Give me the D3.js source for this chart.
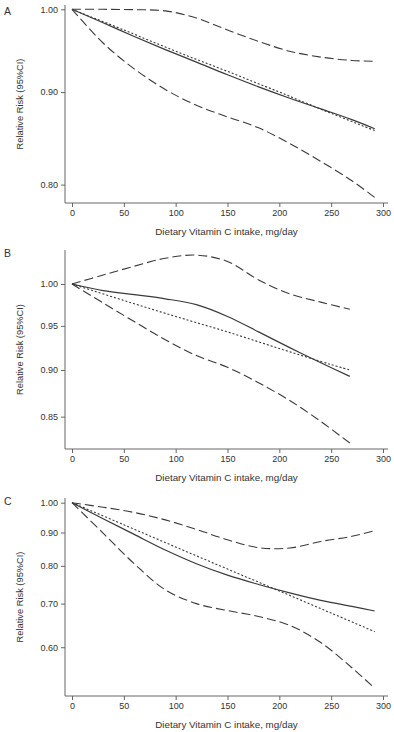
<!DOCTYPE html>
<html lang="en">
<head>
  <meta charset="utf-8">
  <title>Dietary Vitamin C intake and Relative Risk</title>
  <style>
    body { margin: 0; background: #fff; }
    text { font-family: "Liberation Sans", Arial, sans-serif; fill: #333; }
    .axis path, .axis line { stroke: #666; }
  </style>
  <script src="https://cdnjs.cloudflare.com/ajax/libs/d3/7.8.5/d3.min.js"></script>
</head>
<body>
<svg width="394" height="732"></svg>
<script>
    // data
    var xTicks = [0, 50, 100, 150, 200, 250, 300];

    // panel A
    var xA = [0, 30, 60, 90, 120, 150, 180, 210, 240, 270, 292];
    var upperA = [1.000, 1.000, 0.9995, 0.998, 0.989, 0.974, 0.960, 0.948, 0.941, 0.937, 0.936];
    var solidA = [1.000, 0.983, 0.966, 0.950, 0.935, 0.920, 0.906, 0.893, 0.881, 0.869, 0.859];
    var lowerA = [1.000, 0.958, 0.927, 0.903, 0.885, 0.872, 0.860, 0.843, 0.824, 0.804, 0.787];
    var xLinA = [0, 50, 100, 150, 200, 250, 292];
    var linA = [1.000, 0.974, 0.948, 0.924, 0.900, 0.876, 0.857];
    var yTicksA = [0.80, 0.90, 1.00];

    // panel B
    var xB = [0, 30, 60, 90, 120, 150, 180, 210, 240, 268];
    var upperB = [1.000, 1.011, 1.022, 1.032, 1.036, 1.028, 1.005, 0.988, 0.978, 0.9695];
    var solidB = [1.000, 0.992, 0.987, 0.982, 0.975, 0.961, 0.943, 0.925, 0.908, 0.893];
    var lowerB = [1.000, 0.977, 0.955, 0.934, 0.916, 0.903, 0.886, 0.867, 0.845, 0.823];
    var xLinB = [0, 50, 100, 150, 200, 250, 268];
    var linB = [1.000, 0.980, 0.961, 0.943, 0.924, 0.906, 0.900];
    var yTicksB = [0.85, 0.90, 0.95, 1.00];

    // panel C
    var xC = [0, 30, 60, 90, 120, 150, 180, 210, 240, 270, 292];
    var upperC = [1.000, 0.984, 0.966, 0.941, 0.910, 0.877, 0.853, 0.852, 0.872, 0.888, 0.906];
    var solidC = [1.000, 0.945, 0.894, 0.846, 0.806, 0.774, 0.749, 0.727, 0.708, 0.693, 0.682];
    var lowerC = [1.000, 0.898, 0.806, 0.735, 0.700, 0.683, 0.669, 0.648, 0.610, 0.558, 0.519];
    var xLinC = [0, 50, 100, 150, 200, 250, 292];
    var linC = [1.000, 0.925, 0.855, 0.791, 0.732, 0.677, 0.634];
    var yTicksC = [0.60, 0.70, 0.80, 0.90, 1.00];

    var svg = d3.select("svg"),
        axisLeftX = 65,
        axisRightX = 388,
        xScale = d3.scaleLinear().domain([0, 300]).range([72, 383]),
        Xlabel = "Dietary Vitamin C intake, mg/day",
        Ylabel = "Relative Risk (95%CI)";

    var panels = [
      { name: "A", top: 5, bottom: 203, letterY: 15, ymin: 0.7815, ymax: 1.0055, yTicks: yTicksA,
        x: xA, upper: upperA, solid: solidA, lower: lowerA, xLin: xLinA, lin: linA },
      { name: "B", top: 250, bottom: 449, letterY: 257, ymin: 0.817, ymax: 1.0425, yTicks: yTicksB,
        x: xB, upper: upperB, solid: solidB, lower: lowerB, xLin: xLinB, lin: linB },
      { name: "C", top: 498, bottom: 696, letterY: 505, ymin: 0.505, ymax: 1.0167, yTicks: yTicksC,
        x: xC, upper: upperC, solid: solidC, lower: lowerC, xLin: xLinC, lin: linC }
    ];

    panels.forEach(function(p) {
        var yScale = d3.scaleLog().domain([p.ymin, p.ymax]).range([p.bottom, p.top]);
        var g = svg.append("g");

        // panel letter
        g.append("text")
         .attr("x", 4)
         .attr("y", p.letterY)
         .attr("font-size", "10.5px")
         .text(p.name);

        // X axis
        var xg = g.append("g")
         .attr("class", "axis")
         .attr("transform", "translate(0," + p.bottom + ")")
         .call(d3.axisBottom(xScale).tickValues(xTicks).tickSize(4).tickPadding(3).tickSizeOuter(0));
        xg.select(".domain").remove();
        xg.selectAll("text").attr("font-size", "9px").attr("font-family", null);
        g.append("line")
         .attr("x1", axisLeftX).attr("x2", axisRightX)
         .attr("y1", p.bottom).attr("y2", p.bottom)
         .attr("stroke", "#666");

        // Y axis
        var yg = g.append("g")
         .attr("class", "axis")
         .attr("transform", "translate(" + axisLeftX + ",0)")
         .call(d3.axisLeft(yScale).tickValues(p.yTicks).tickFormat(d3.format(".2f")).tickSize(4).tickPadding(3).tickSizeOuter(0));
        yg.select(".domain").remove();
        yg.selectAll("text").attr("font-size", "9px").attr("font-family", null);
        g.append("line")
         .attr("x1", axisLeftX).attr("x2", axisLeftX)
         .attr("y1", p.top).attr("y2", p.bottom)
         .attr("stroke", "#666");

        // axis titles
        g.append("text")
         .attr("x", (axisLeftX + axisRightX) / 2)
         .attr("y", p.bottom + 32)
         .attr("text-anchor", "middle")
         .attr("font-size", "9.8px")
         .text(Xlabel);
        g.append("text")
         .attr("transform", "translate(23," + (p.top + p.bottom) / 2 + ") rotate(-90)")
         .attr("text-anchor", "middle")
         .attr("font-size", "9.3px")
         .text(Ylabel);

        // curves
        var line = d3.line()
          .x(function(d) { return xScale(d[0]); })
          .y(function(d) { return yScale(d[1]); })
          .curve(d3.curveCatmullRom.alpha(0.5));

        function draw(xs, ys, dash, w) {
            g.append("path")
             .datum(d3.zip(xs, ys))
             .attr("d", line)
             .attr("fill", "none")
             .attr("stroke", "#3a3a3a")
             .attr("stroke-width", w)
             .attr("stroke-dasharray", dash);
        }
        draw(p.x, p.upper, "9,4", 1.1);
        draw(p.x, p.lower, "9,4", 1.1);
        draw(p.xLin, p.lin, "2,2", 1.1);
        draw(p.x, p.solid, null, 1.2);
    });
</script>
</body>
</html>
